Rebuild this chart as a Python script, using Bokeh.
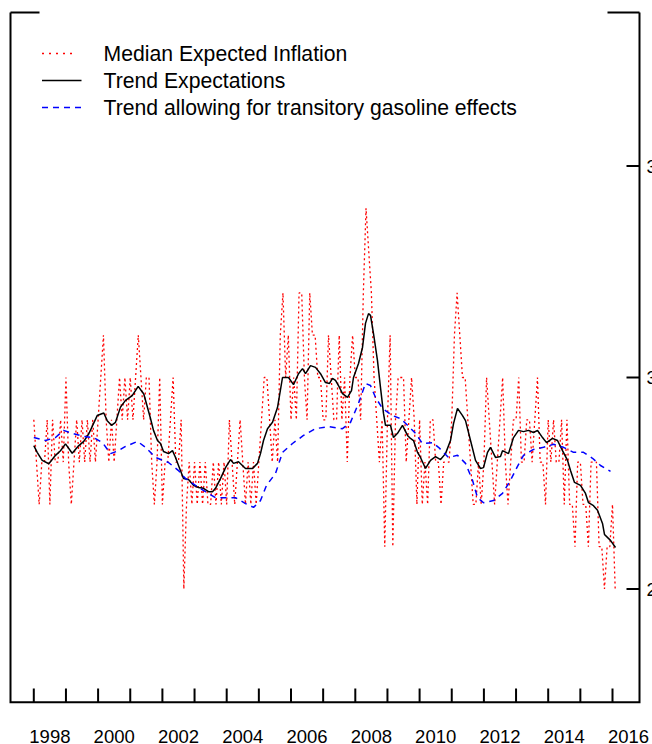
from bokeh.plotting import figure
from bokeh.models import Range1d
from bokeh.embed import file_html
from bokeh.resources import INLINE
from bokeh.core.properties import value

# ---------------- data ----------------
start_year = 1998
# Median expected inflation (monthly, Jan 1998 .. Feb 2016), percent
median_1998 = [2.9, 2.8, 2.7, 2.8, 2.8, 2.9, 2.7, 2.9, 2.8, 2.8, 2.9, 2.8]
median_1999 = [3.0, 2.8, 2.7, 2.8, 2.9, 2.8, 2.9, 2.8, 2.9, 2.8, 2.9, 2.8]
median_2000 = [2.9, 3.0, 3.1, 2.9, 2.8, 2.9, 2.8, 2.9, 3.0, 2.9, 3.0, 2.9]
median_2001 = [3.0, 2.9, 3.0, 3.1, 3.0, 2.9, 3.0, 3.0, 2.8, 2.7, 2.8, 3.0]
median_2002 = [2.7, 2.8, 2.8, 2.9, 3.0, 2.8, 2.8, 2.9, 2.5, 2.7, 2.8, 2.7]
median_2003 = [2.8, 2.7, 2.8, 2.7, 2.8, 2.7, 2.7, 2.8, 2.7, 2.8, 2.7, 2.8]
median_2004 = [2.7, 2.9, 2.8, 2.7, 2.8, 2.9, 2.8, 2.7, 2.8, 2.7, 2.8, 2.7]
median_2005 = [2.8, 2.9, 3.0, 3.0, 2.9, 2.8, 2.9, 2.8, 3.1, 3.2, 3.0, 3.1]
median_2006 = [2.9, 3.0, 2.9, 3.2, 3.2, 3.0, 2.9, 3.2, 3.1, 3.1, 3.0, 3.0]
median_2007 = [2.9, 2.9, 3.1, 3.0, 2.9, 2.9, 3.1, 2.9, 3.0, 2.8, 3.0, 3.1]
median_2008 = [3.0, 3.0, 2.9, 3.2, 3.4, 3.3, 3.2, 3.0, 2.9, 2.8, 2.9, 2.6]
median_2009 = [2.9, 3.1, 2.6, 2.9, 3.0, 3.0, 3.0, 2.8, 2.9, 3.0, 2.9, 2.7]
median_2010 = [2.9, 2.7, 2.8, 2.7, 2.9, 2.9, 2.8, 2.8, 2.7, 2.8, 2.8, 2.8]
median_2011 = [2.9, 3.1, 3.2, 3.1, 3.0, 3.0, 2.9, 2.8, 2.7, 2.7, 2.8, 2.7]
median_2012 = [2.8, 3.0, 2.9, 2.8, 2.7, 2.8, 2.9, 3.0, 2.8, 2.7, 2.8, 2.9]
median_2013 = [2.9, 3.0, 2.8, 2.8, 2.9, 2.9, 2.8, 2.9, 3.0, 2.8, 2.8, 2.7]
median_2014 = [2.9, 2.8, 2.9, 2.8, 2.8, 2.9, 2.7, 2.9, 2.7, 2.7, 2.6, 2.8]
median_2015 = [2.8, 2.7, 2.7, 2.6, 2.8, 2.8, 2.8, 2.6, 2.6, 2.5, 2.6, 2.6]
median_2016 = [2.7, 2.5]

# Trend expectations (date, percent)
trend_dates = [1998.000, 1998.106, 1998.261, 1998.467, 1998.572, 1998.675, 1998.830, 1998.986,
               1999.194, 1999.400, 1999.555, 1999.711, 1999.972, 2000.177, 2000.283, 2000.417,
               2000.541, 2000.697, 2000.852, 2001.061, 2001.247, 2001.421, 2001.630, 2001.723,
               2001.847, 2001.941, 2002.034, 2002.190, 2002.314, 2002.408, 2002.501, 2002.656,
               2002.812, 2002.967, 2003.123, 2003.278, 2003.434, 2003.558, 2003.652, 2003.807,
               2003.963, 2004.118, 2004.212, 2004.367, 2004.585, 2004.803, 2004.958, 2005.051,
               2005.145, 2005.269, 2005.425, 2005.580, 2005.736, 2005.923, 2006.078, 2006.233,
               2006.358, 2006.451, 2006.607, 2006.762, 2006.918, 2007.073, 2007.198, 2007.291,
               2007.384, 2007.477, 2007.602, 2007.757, 2007.882, 2007.944, 2008.100, 2008.224,
               2008.317, 2008.411, 2008.473, 2008.566, 2008.690, 2008.784, 2008.877, 2008.939,
               2009.095, 2009.188, 2009.313, 2009.468, 2009.624, 2009.717, 2009.810, 2009.935,
               2010.028, 2010.184, 2010.339, 2010.495, 2010.650, 2010.806, 2010.961, 2011.055,
               2011.179, 2011.335, 2011.428, 2011.584, 2011.739, 2011.894, 2011.988, 2012.112,
               2012.205, 2012.361, 2012.516, 2012.579, 2012.765, 2012.921, 2013.076, 2013.232,
               2013.388, 2013.543, 2013.668, 2013.823, 2013.948, 2014.134, 2014.290, 2014.445,
               2014.601, 2014.694, 2014.818, 2015.005, 2015.160, 2015.254, 2015.409, 2015.534,
               2015.689, 2015.751, 2015.938, 2016.093]
trend_values = [2.839, 2.823, 2.804, 2.796, 2.806, 2.816, 2.827, 2.843,
                2.821, 2.839, 2.849, 2.867, 2.910, 2.916, 2.898, 2.887,
                2.894, 2.930, 2.946, 2.957, 2.979, 2.961, 2.903, 2.875,
                2.851, 2.844, 2.825, 2.820, 2.827, 2.811, 2.792, 2.761,
                2.759, 2.745, 2.740, 2.738, 2.730, 2.730, 2.738, 2.761,
                2.787, 2.806, 2.797, 2.801, 2.785, 2.785, 2.797, 2.820,
                2.851, 2.879, 2.894, 2.929, 3.000, 3.000, 2.983, 3.009,
                3.021, 3.009, 3.028, 3.024, 3.009, 2.988, 2.986, 2.998,
                2.993, 2.981, 2.962, 2.953, 2.969, 3.000, 3.033, 3.071,
                3.128, 3.151, 3.147, 3.104, 3.040, 2.976, 2.915, 2.887,
                2.887, 2.858, 2.868, 2.887, 2.863, 2.856, 2.851, 2.823,
                2.811, 2.785, 2.804, 2.813, 2.806, 2.820, 2.851, 2.891,
                2.927, 2.910, 2.898, 2.851, 2.804, 2.785, 2.787, 2.823,
                2.835, 2.811, 2.813, 2.827, 2.820, 2.858, 2.875, 2.872,
                2.875, 2.870, 2.875, 2.858, 2.846, 2.856, 2.851, 2.827,
                2.804, 2.780, 2.752, 2.745, 2.726, 2.704, 2.697, 2.686,
                2.655, 2.629, 2.615, 2.598]

# Trend allowing for transitory gasoline effects (date, percent)
gas_dates = [1998.000, 1998.364, 1998.675, 1998.924, 1999.204, 1999.546, 1999.857, 2000.137,
             2000.386, 2000.635, 2000.852, 2001.225, 2001.474, 2001.785, 2002.190, 2002.501,
             2002.719, 2003.030, 2003.341, 2003.652, 2003.963, 2004.274, 2004.585, 2004.834,
             2005.051, 2005.238, 2005.518, 2005.736, 2006.047, 2006.389, 2006.762, 2007.166,
             2007.602, 2007.851, 2008.100, 2008.317, 2008.473, 2008.628, 2008.846, 2009.157,
             2009.406, 2009.624, 2009.872, 2010.090, 2010.401, 2010.588, 2010.899, 2011.179,
             2011.428, 2011.646, 2011.801, 2011.988, 2012.299, 2012.579, 2012.827, 2013.045,
             2013.232, 2013.543, 2013.855, 2014.166, 2014.477, 2014.788, 2015.099, 2015.378,
             2015.627, 2015.938]
gas_values = [2.858, 2.851, 2.858, 2.875, 2.868, 2.861, 2.858, 2.846,
              2.820, 2.827, 2.837, 2.849, 2.835, 2.811, 2.799, 2.780,
              2.761, 2.745, 2.730, 2.716, 2.716, 2.716, 2.702, 2.693,
              2.709, 2.745, 2.773, 2.823, 2.844, 2.863, 2.879, 2.884,
              2.879, 2.894, 2.939, 2.986, 2.981, 2.953, 2.927, 2.910,
              2.903, 2.887, 2.868, 2.844, 2.846, 2.835, 2.811, 2.816,
              2.797, 2.757, 2.716, 2.704, 2.709, 2.726, 2.757, 2.790,
              2.816, 2.830, 2.835, 2.842, 2.835, 2.823, 2.823, 2.809,
              2.792, 2.778]

year_ticks = list(range(1998, 2017))
year_labels = ["1998", "2000", "2002", "2004", "2006", "2008", "2010", "2012", "2014", "2016"]
right_ticks = [2.5, 3.0, 3.5]
right_labels = ["2.5", "3.0", "3.5"]
legend_labels = ["Median Expected Inflation", "Trend Expectations",
                 "Trend allowing for transitory gasoline effects"]

# ---------------- layout ----------------
W, H = 652, 744
PX_PER_YEAR = 32.15
X0 = 1998 - 33.3 / PX_PER_YEAR           # left canvas edge in years
X1 = X0 + W / PX_PER_YEAR
Y_AT_3 = 377.0                            # canvas y of 3.0
PX_PER_UNIT = 423.0
Y1 = 3.0 + Y_AT_3 / PX_PER_UNIT
Y0 = 3.0 - (H - Y_AT_3) / PX_PER_UNIT


def dx(px):
    return X0 + px / PX_PER_YEAR


def dy(py):
    return 3.0 + (Y_AT_3 - py) / PX_PER_UNIT


p = figure(width=W, height=H, output_backend="svg", toolbar_location=None,
           x_range=Range1d(X0, X1), y_range=Range1d(Y0, Y1),
           x_axis_location=None, y_axis_location=None,
           min_border=0, min_border_left=0, min_border_right=0,
           min_border_top=0, min_border_bottom=0)
p.outline_line_color = None
p.grid.visible = False
p.background_fill_color = "white"
p.border_fill_color = "white"

median = (median_1998 + median_1999 + median_2000 + median_2001 + median_2002 + median_2003 +
          median_2004 + median_2005 + median_2006 + median_2007 + median_2008 + median_2009 +
          median_2010 + median_2011 + median_2012 + median_2013 + median_2014 + median_2015 +
          median_2016)
median_dates = [start_year + i / 12.0 for i in range(len(median))]

p.line(median_dates, median, line_color="red", line_width=1.3, line_dash="2 3")
p.line(trend_dates, trend_values, line_color="black", line_width=1.5)
p.line(gas_dates, gas_values, line_color="blue", line_width=1.5, line_dash="6 5")

# frame: left, bottom, right lines
L, R = dx(10), dx(639)
B, T = dy(701.7), dy(12)
FRAME_W = 2
p.line([L, L, R, R], [T, B, B, T], line_color="black", line_width=FRAME_W, line_join="miter")
p.segment(x0=[L, dx(607)], y0=[T, T], x1=[dx(39), R], y1=[T, T],
          line_color="black", line_width=FRAME_W)

# bottom ticks (inward)
p.segment(x0=year_ticks, y0=[B] * len(year_ticks), x1=year_ticks,
          y1=[dy(688)] * len(year_ticks), line_color="black", line_width=FRAME_W)
# right ticks (inward)
p.segment(x0=[dx(626)] * len(right_ticks), y0=right_ticks, x1=[R] * len(right_ticks),
          y1=right_ticks, line_color="black", line_width=FRAME_W)
# right labels (largely beyond the picture's edge, as in the original)
p.text(x=[dx(646)] * len(right_ticks), y=right_ticks, text=right_labels,
       text_font=value("Liberation Sans"), text_font_size="18.5px", text_color="black",
       text_align="left", text_baseline="middle")

# bottom labels (centred under each labelled year)
label_x = [int(s) + 0.5 for s in year_labels]
p.text(x=label_x, y=[dy(736)] * len(label_x), text=year_labels,
       text_font=value("Liberation Sans"), text_font_size="18.5px", text_color="black",
       text_align="center", text_baseline="middle")

# legend
leg_y = [dy(53), dy(80), dy(107)]
p.line([dx(41.5), dx(76)], [leg_y[0]] * 2, line_color="red", line_width=1.5, line_dash="2 5")
p.line([dx(41.5), dx(81)], [leg_y[1]] * 2, line_color="black", line_width=1.5)
p.line([dx(41.5), dx(81)], [leg_y[2]] * 2, line_color="blue", line_width=1.5, line_dash="6 5")
p.text(x=[dx(103)] * 3, y=leg_y, text=legend_labels,
       text_font=value("Liberation Sans"), text_font_size="21.2px", text_color="black",
       text_align="left", text_baseline="middle")

open("out.html", "w").write(file_html(p, INLINE))
